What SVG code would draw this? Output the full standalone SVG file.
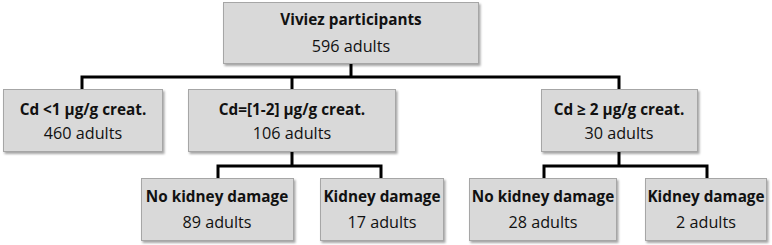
<svg xmlns="http://www.w3.org/2000/svg" width="772" height="245" viewBox="0 0 772 245">
<defs>
<filter id="sh" x="-10%" y="-10%" width="120%" height="130%">
<feDropShadow dx="1.5" dy="2" stdDeviation="1.2" flood-color="#000" flood-opacity="0.35"/>
</filter>
<style>
.box{fill:#d9d9d9;stroke:#a6a6a6;stroke-width:1;filter:url(#sh);}
.t{font-family:"Open Sans","Liberation Sans",sans-serif;font-size:16.2px;fill:#111;text-anchor:middle;}
.b{font-weight:bold;font-size:15.3px;}
.c{fill:none;stroke:#000;stroke-width:3;}
</style>
</defs>
<rect width="772" height="245" fill="#fff"/>
<g id="connectors">
<polyline class="c" points="351,63 351,77"/>
<polyline class="c" points="82,89 82,77 619,77 619,89"/>
<polyline class="c" points="292,77 292,89"/>
<polyline class="c" points="292,151 292,166"/>
<polyline class="c" points="218,178 218,166 381,166 381,178"/>
<polyline class="c" points="619,151 619,166"/>
<polyline class="c" points="544,178 544,166 707,166 707,178"/>
</g>
<g id="root">
<rect class="box" x="223.5" y="2.5" width="255" height="61"/>
<text class="t b" x="351" y="25">Viviez participants</text>
<text class="t" x="351" y="52">596 adults</text>
</g>
<g id="cd_low">
<rect class="box" x="3.5" y="89.5" width="159" height="62"/>
<text class="t b" x="83" y="115">Cd &lt;1 µg/g creat.</text>
<text class="t" x="83" y="139">460 adults</text>
</g>
<g id="cd_mid">
<rect class="box" x="188.5" y="89.5" width="207" height="62"/>
<text class="t b" x="292" y="115">Cd=[1-2] µg/g creat.</text>
<text class="t" x="292" y="139">106 adults</text>
</g>
<g id="cd_high">
<rect class="box" x="541.5" y="89.5" width="156" height="62"/>
<text class="t b" x="619" y="115">Cd ≥ 2 µg/g creat.</text>
<text class="t" x="619" y="139">30 adults</text>
</g>
<g id="mid_no">
<rect class="box" x="141.5" y="178.5" width="152" height="62"/>
<text class="t b" x="217" y="202">No kidney damage</text>
<text class="t" x="217" y="228">89 adults</text>
</g>
<g id="mid_yes">
<rect class="box" x="320.5" y="178.5" width="123" height="62"/>
<text class="t b" x="382" y="202">Kidney damage</text>
<text class="t" x="382" y="228">17 adults</text>
</g>
<g id="high_no">
<rect class="box" x="469.5" y="178.5" width="147" height="62"/>
<text class="t b" x="543" y="202">No kidney damage</text>
<text class="t" x="543" y="228">28 adults</text>
</g>
<g id="high_yes">
<rect class="box" x="645.5" y="178.5" width="121" height="62"/>
<text class="t b" x="706" y="202">Kidney damage</text>
<text class="t" x="706" y="228">2 adults</text>
</g>
</svg>
